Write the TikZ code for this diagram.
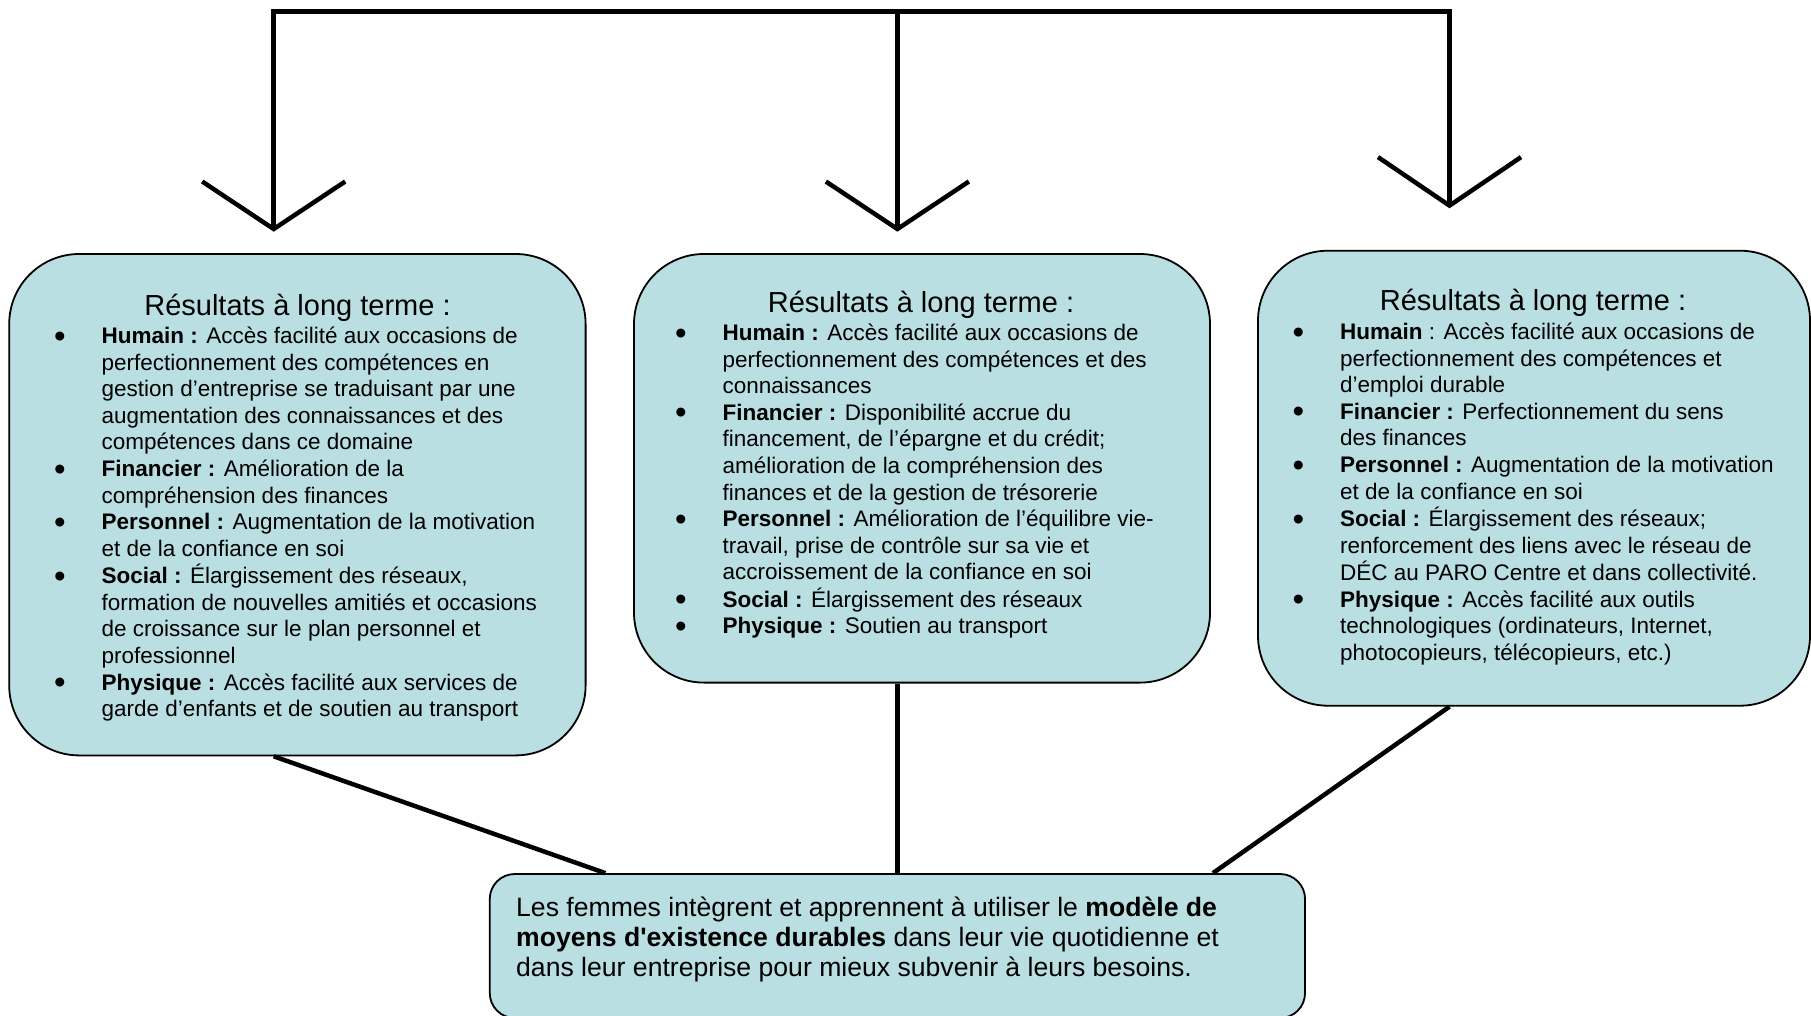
\documentclass[tikz,border=0pt]{standalone}
\usepackage{fontspec}
\setmainfont{Liberation Sans}[Ligatures=TeXOff]
\usetikzlibrary{calc}

\definecolor{boxfill}{RGB}{185,223,227}

\newcommand{\titlefont}{\fontsize{29}{34}\selectfont}
\newcommand{\listfont}{\fontsize{22.5}{26.6}\selectfont}
\newcommand{\leadfont}{\fontsize{26.6}{30}\selectfont}
% list bullet, a little heavier than the text-size one
\newcommand{\bul}{\raisebox{-3.6pt}{\fontsize{33}{26.6}\selectfont\textbullet}}

\tikzset{
  resultbox/.style={draw=black, line width=1.8pt, fill=boxfill, rounded corners=70pt, inner sep=0pt},
  goalbox/.style={draw=black, line width=1.8pt, fill=boxfill, rounded corners=25pt, inner sep=0pt},
  link/.style={draw=black, line width=4.5pt},
  vtip/.style={draw=black, line width=4.5pt},
  heading/.style={anchor=base, inner sep=0pt, font=\titlefont},
  itemlist/.style={anchor=base west, inner sep=0pt, font=\listfont},
  leadtext/.style={anchor=base west, inner sep=0pt, font=\leadfont},
}

\begin{document}
\begin{tikzpicture}[x=1pt, y=-1pt]
\useasboundingbox (0,0) rectangle (1811,1015);

% branching feed at the top
\coordinate (lv) at (273.7,11.5);
\coordinate (mv) at (897.4,11.5);
\coordinate (rv) at (1449.5,11.5);
\coordinate (lt) at (273.7,229);
\coordinate (mt) at (897.4,229);
\coordinate (rt) at (1449.5,205.6);

\draw[link] (lt) -- (lv) -- (rv) -- (rt);
\draw[link] (mv) -- (mt);

% open arrowheads
\draw[vtip] ($(lt)+(-71.5,-47.5)$) -- (lt) -- ($(lt)+(71.5,-47.5)$);
\draw[vtip] ($(mt)+(-71.5,-47.5)$) -- (mt) -- ($(mt)+(71.5,-47.5)$);
\draw[vtip] ($(rt)+(-71.5,-48.5)$) -- (rt) -- ($(rt)+(71.5,-48.5)$);

% result boxes
\node[resultbox, minimum width=576.4pt, minimum height=501.4pt] (lbox) at (297.4,504.7) {};
\node[resultbox, minimum width=576pt, minimum height=428.6pt] (mbox) at (922,468.3) {};
\node[resultbox, minimum width=552pt, minimum height=455pt] (rbox) at (1534,478.2) {};

% goal box
\node[goalbox, minimum width=815.3pt, minimum height=144pt] (bbox) at (897.4,946) {};

% links into the goal box
\draw[link] (lbox.south -| lv) -- ($(bbox.north west)+(116.5,0)$);
\draw[link] (mbox.south -| mv) -- (bbox.north);
\draw[link] (rbox.south -| rv) -- ($(bbox.north east)+(-93,0)$);

% left box text
\node[heading] (ltitle) at (297.5,315) {Résultats à long terme :};
\node[itemlist] (llist) at (54,343.5) {\begin{tabular}[t]{@{}p{47.5pt}@{}l@{}}
\bul & \textbf{Humain :} Accès facilité aux occasions de\\
 & perfectionnement des compétences en\\
 & gestion d’entreprise se traduisant par une\\
 & augmentation des connaissances et des\\
 & compétences dans ce domaine\\
\bul & \textbf{Financier :} Amélioration de la\\
 & compréhension des finances\\
\bul & \textbf{Personnel :} Augmentation de la motivation\\
 & et de la confiance en soi\\
\bul & \textbf{Social :} Élargissement des réseaux,\\
 & formation de nouvelles amitiés et occasions\\
 & de croissance sur le plan personnel et\\
 & professionnel\\
\bul & \textbf{Physique :} Accès facilité aux services de\\
 & garde d’enfants et de soutien au transport
\end{tabular}};

% middle box text
\node[heading] (mtitle) at (921,312) {Résultats à long terme :};
\node[itemlist] (mlist) at (675,340.5) {\begin{tabular}[t]{@{}p{47.5pt}@{}l@{}}
\bul & \textbf{Humain :} Accès facilité aux occasions de\\
 & perfectionnement des compétences et des\\
 & connaissances\\
\bul & \textbf{Financier :} Disponibilité accrue du\\
 & financement, de l’épargne et du crédit;\\
 & amélioration de la compréhension des\\
 & finances et de la gestion de trésorerie\\
\bul & \textbf{Personnel :} Amélioration de l’équilibre vie-\\
 & travail, prise de contrôle sur sa vie et\\
 & accroissement de la confiance en soi\\
\bul & \textbf{Social :} Élargissement des réseaux\\
\bul & \textbf{Physique :} Soutien au transport
\end{tabular}};

% right box text
\node[heading] (rtitle) at (1533,310.7) {Résultats à long terme :};
\node[itemlist] (rlist) at (1292.5,339.5) {\begin{tabular}[t]{@{}p{47.5pt}@{}l@{}}
\bul & \textbf{Humain} : Accès facilité aux occasions de\\
 & perfectionnement des compétences et\\
 & d’emploi durable\\
\bul & \textbf{Financier :} Perfectionnement du sens\\
 & des finances\\
\bul & \textbf{Personnel :} Augmentation de la motivation\\
 & et de la confiance en soi\\
\bul & \textbf{Social :} Élargissement des réseaux;\\
 & renforcement des liens avec le réseau de\\
 & DÉC au PARO Centre et dans collectivité.\\
\bul & \textbf{Physique :} Accès facilité aux outils\\
 & technologiques (ordinateurs, Internet,\\
 & photocopieurs, télécopieurs, etc.)
\end{tabular}};

% goal text
\node[leadtext] (btext) at (516,916.8) {\begin{tabular}[t]{@{}l@{}}
Les femmes intègrent et apprennent à utiliser le \textbf{modèle de}\\
\textbf{moyens d'existence durables} dans leur vie quotidienne et\\
dans leur entreprise pour mieux subvenir à leurs besoins.
\end{tabular}};

\end{tikzpicture}
\end{document}
